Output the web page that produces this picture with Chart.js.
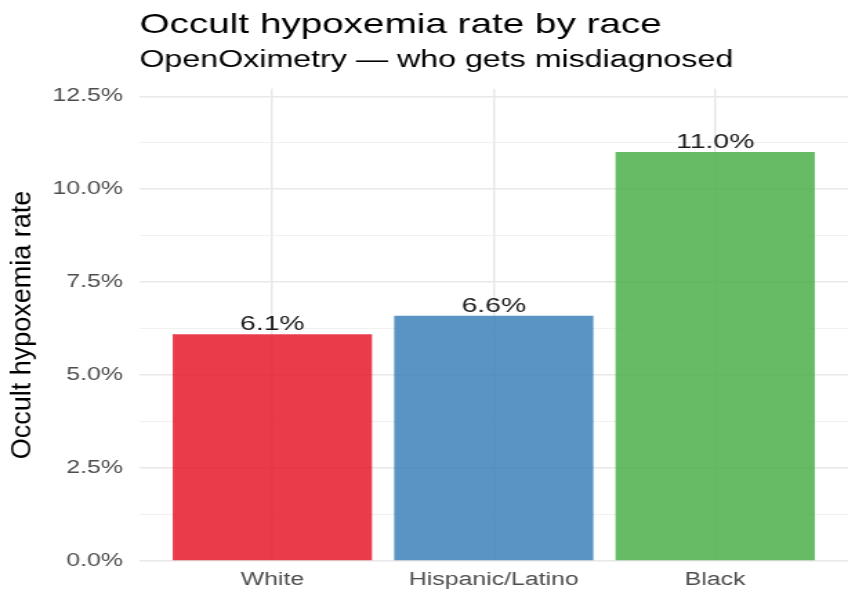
<!DOCTYPE html>
<html>
<head>
<meta charset="utf-8">
<title>Occult hypoxemia rate by race</title>
<script src="https://cdn.jsdelivr.net/npm/chart.js@4.4.1/dist/chart.umd.min.js"></script>
<style>
  html, body { margin: 0; padding: 0; background: #ffffff; }
</style>
</head>
<body>
<canvas id="chart" width="614" height="592" style="display:block;width:848px;height:592px"></canvas>
<script>
const categories = ["White", "Hispanic/Latino", "Black"];
const rates = [6.1, 6.6, 11.0];
const barColors = ["rgba(228, 26, 44, 0.85)", "rgba(55, 126, 184, 0.83)", "rgba(77, 175, 74, 0.85)"];
const yTicks = [0, 1.25, 2.5, 3.75, 5, 6.25, 7.5, 8.75, 10, 11.25, 12.5];
const yMax = 12.7;

const FONT = "'Liberation Sans', Arial, Helvetica, sans-serif";

// values drawn above each bar
const barLabels = {
  id: "barLabels",
  afterDatasetsDraw(chart) {
    const ctx = chart.ctx;
    const meta = chart.getDatasetMeta(0);
    ctx.save();
    ctx.font = "20.5px " + FONT;
    ctx.fillStyle = "#1a1a1a";
    ctx.textAlign = "center";
    ctx.textBaseline = "alphabetic";
    meta.data.forEach((bar, i) => {
      ctx.fillText(rates[i].toFixed(1) + "%", bar.x, bar.y - 4);
    });
    ctx.restore();
  }
};

// rotated y axis title, squeezed across its height
const yTitle = {
  id: "yTitle",
  afterDraw(chart) {
    const ctx = chart.ctx;
    const area = chart.chartArea;
    ctx.save();
    ctx.translate(16.3, (area.top + area.bottom) / 2);
    ctx.rotate(-Math.PI / 2);
    ctx.scale(1, 0.76);
    ctx.font = "27px " + FONT;
    ctx.fillStyle = "#000000";
    ctx.textAlign = "center";
    ctx.textBaseline = "middle";
    ctx.fillText("Occult hypoxemia rate", 0, 0);
    ctx.restore();
  }
};

new Chart(document.getElementById("chart"), {
  type: "bar",
  data: {
    datasets: [{
      data: rates.map((v, i) => ({ x: i + 1, y: v })),
      backgroundColor: barColors,
      borderWidth: 0,
      categoryPercentage: 1,
      barPercentage: 0.9
    }]
  },
  options: {
    responsive: false,
    animation: false,
    layout: { padding: 0 },
    plugins: {
      legend: { display: false },
      tooltip: { enabled: false },
      title: {
        display: true,
        text: "Occult hypoxemia rate by race",
        align: "start",
        fullSize: false,
        color: "#000000",
        font: { family: FONT, size: 28, weight: "normal", lineHeight: 1.2 },
        padding: { top: 8.5, bottom: 0 }
      },
      subtitle: {
        display: true,
        text: "OpenOximetry \u2014 who gets misdiagnosed",
        align: "start",
        fullSize: false,
        color: "#000000",
        font: { family: FONT, size: 23.3, weight: "normal", lineHeight: 1.2 },
        padding: { top: 4.5, bottom: 14.3 }
      }
    },
    scales: {
      x: {
        type: "linear",
        min: 0.4,
        max: 3.6,
        offset: false,
        border: { display: false },
        afterBuildTicks: (axis) => {
          axis.ticks = categories.map((c, i) => ({ value: i + 1 }));
        },
        afterFit: (axis) => { axis.height = 31; },
        grid: { color: "#e8e8e8", lineWidth: 1.5, drawTicks: false, offset: false },
        ticks: {
          autoSkip: false,
          maxRotation: 0,
          padding: 8,
          color: "#4d4d4d",
          font: { family: FONT, size: 18 },
          callback: (v) => categories[v - 1]
        }
      },
      y: {
        min: 0,
        max: yMax,
        border: { display: false },
        afterBuildTicks: (axis) => {
          axis.ticks = yTicks.map((v) => ({ value: v }));
        },
        afterFit: (axis) => { axis.width = 101; },
        grid: {
          drawTicks: false,
          color: (c) => (c.tick && c.tick.value % 2.5 === 0 ? "#e8e8e8" : "#f1f1f1"),
          lineWidth: (c) => (c.tick && c.tick.value % 2.5 === 0 ? 1.5 : 1)
        },
        ticks: {
          padding: 12,
          color: "#4d4d4d",
          font: { family: FONT, size: 18 },
          callback: (v) => (v % 2.5 === 0 ? v.toFixed(1) + "%" : "")
        }
      }
    }
  },
  plugins: [barLabels, yTitle]
});
</script>
</body>
</html>
